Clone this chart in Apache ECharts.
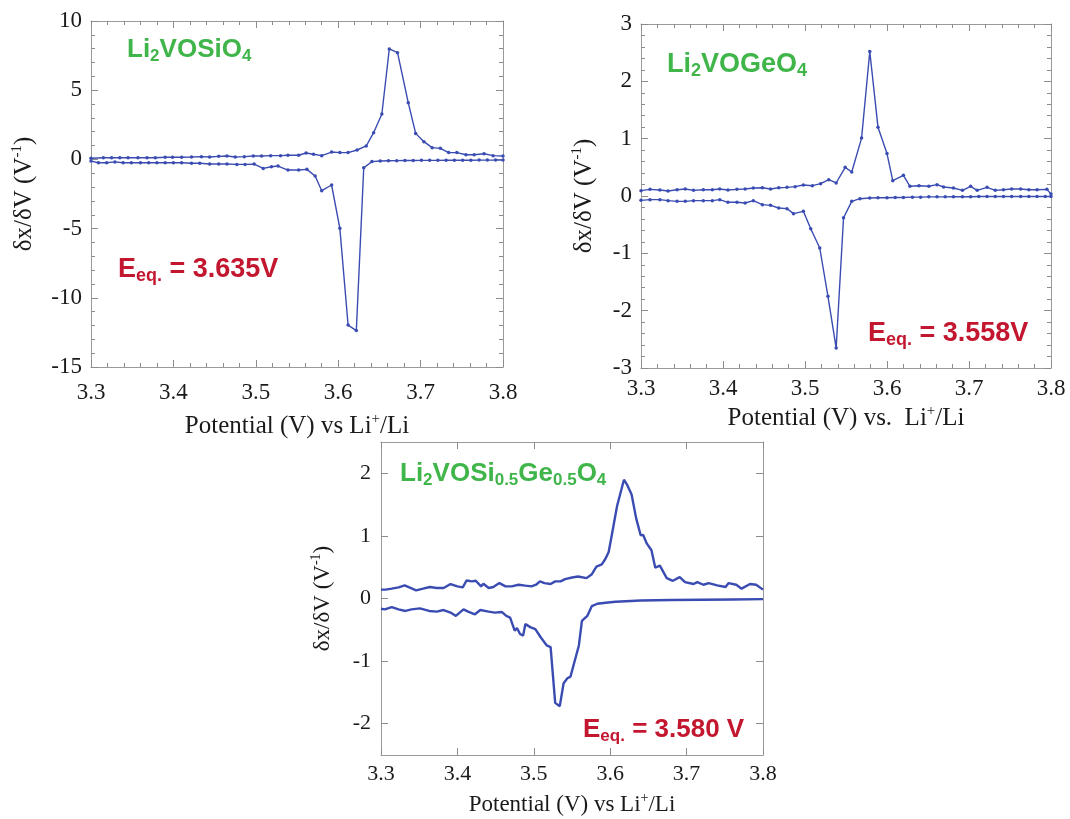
<!DOCTYPE html>
<html>
<head>
<meta charset="utf-8">
<script src="https://cdn.jsdelivr.net/npm/echarts@6/dist/echarts.min.js"></script>
<style>
  html, body { margin: 0; padding: 0; background: #fff; }
  #chart { width: 1070px; height: 819px; }
</style>
</head>
<body>
<div id="chart"></div>
<script>
// data, [potential V, dx/dV]
var siCharge = [[3.300,0.08],[3.315,0.12],[3.325,0.12],[3.335,0.12],[3.345,0.12],[3.357,0.12],[3.368,0.12],[3.378,0.12],
  [3.390,0.15],[3.399,0.15],[3.410,0.15],[3.422,0.17],[3.434,0.2],[3.444,0.17],[3.455,0.22],[3.465,0.25],[3.475,0.17],
  [3.486,0.2],[3.497,0.25],[3.507,0.25],[3.518,0.27],[3.530,0.27],[3.539,0.3],[3.552,0.3],[3.561,0.46],[3.570,0.37],
  [3.580,0.27],[3.592,0.53],[3.602,0.49],[3.612,0.49],[3.623,0.68],[3.634,0.97],[3.643,1.93],[3.653,3.28],[3.662,7.98],
  [3.672,7.71],[3.685,4.1],[3.694,1.88],[3.704,1.28],[3.714,0.85],[3.724,0.8],[3.734,0.49],[3.744,0.49],[3.755,0.34],
  [3.765,0.34],[3.777,0.41],[3.788,0.27],[3.800,0.25]];
var siDischarge = [[3.300,-0.12],[3.309,-0.24],[3.319,-0.24],[3.329,-0.18],[3.339,-0.24],[3.349,-0.24],[3.360,-0.24],
  [3.370,-0.24],[3.380,-0.24],[3.390,-0.24],[3.400,-0.24],[3.410,-0.24],[3.422,-0.28],[3.432,-0.28],[3.444,-0.33],
  [3.455,-0.33],[3.465,-0.33],[3.477,-0.36],[3.487,-0.36],[3.498,-0.34],[3.509,-0.65],[3.519,-0.53],[3.527,-0.48],
  [3.539,-0.77],[3.552,-0.77],[3.562,-0.72],[3.572,-1.2],[3.580,-2.26],[3.592,-1.85],[3.602,-4.98],[3.612,-11.97],
  [3.622,-12.37],[3.631,-0.6],[3.641,-0.16],[3.651,-0.12],[3.661,-0.1],[3.671,-0.09],[3.681,-0.08],[3.691,-0.08],
  [3.701,-0.07],[3.711,-0.07],[3.721,-0.07],[3.731,-0.06],[3.741,-0.06],[3.751,-0.06],[3.761,-0.06],[3.771,-0.05],
  [3.781,-0.05],[3.791,-0.05],[3.800,-0.05]];

var geCharge = [[3.300,0.093],[3.311,0.116],[3.323,0.105],[3.333,0.087],[3.344,0.11],[3.354,0.122],[3.364,0.099],
  [3.376,0.11],[3.387,0.11],[3.396,0.122],[3.406,0.105],[3.417,0.116],[3.427,0.122],[3.437,0.14],[3.448,0.145],
  [3.458,0.122],[3.468,0.145],[3.478,0.151],[3.488,0.163],[3.498,0.192],[3.509,0.18],[3.519,0.215],[3.529,0.285],
  [3.538,0.227],[3.549,0.5],[3.557,0.419],[3.569,1.01],[3.579,2.52],[3.589,1.2],[3.600,0.74],[3.607,0.267],[3.620,0.36],
  [3.628,0.169],[3.639,0.18],[3.651,0.169],[3.661,0.198],[3.669,0.157],[3.681,0.14],[3.692,0.099],[3.702,0.169],
  [3.710,0.099],[3.722,0.151],[3.732,0.099],[3.742,0.11],[3.752,0.122],[3.763,0.122],[3.773,0.11],[3.783,0.11],
  [3.795,0.116],[3.800,0.035]];
var geDischarge = [[3.300,-0.076],[3.311,-0.064],[3.323,-0.064],[3.333,-0.081],[3.344,-0.093],[3.354,-0.093],
  [3.364,-0.081],[3.376,-0.081],[3.387,-0.081],[3.396,-0.064],[3.406,-0.11],[3.417,-0.11],[3.427,-0.122],[3.437,-0.081],
  [3.448,-0.151],[3.458,-0.163],[3.468,-0.209],[3.478,-0.221],[3.486,-0.308],[3.498,-0.267],[3.507,-0.57],[3.518,-0.907],
  [3.528,-1.75],[3.538,-2.65],[3.547,-0.38],[3.557,-0.093],[3.567,-0.047],[3.579,-0.035],[3.589,-0.03],[3.600,-0.03],
  [3.610,-0.025],[3.620,-0.025],[3.631,-0.02],[3.641,-0.02],[3.651,-0.015],[3.661,-0.015],[3.671,-0.015],[3.681,-0.012],
  [3.692,-0.012],[3.702,-0.012],[3.712,-0.01],[3.722,-0.01],[3.732,-0.01],[3.742,-0.01],[3.752,-0.01],[3.763,-0.01],
  [3.773,-0.01],[3.783,-0.01],[3.793,-0.01],[3.800,-0.01]];

var mixCharge = [[3.300,0.142],[3.306,0.142],[3.314,0.157],[3.323,0.178],[3.331,0.21],[3.337,0.178],[3.346,0.131],
  [3.355,0.157],[3.364,0.184],[3.373,0.168],[3.382,0.168],[3.391,0.231],[3.400,0.194],[3.407,0.178],[3.412,0.288],
  [3.419,0.273],[3.424,0.283],[3.431,0.194],[3.434,0.236],[3.441,0.168],[3.447,0.184],[3.455,0.246],[3.463,0.194],
  [3.471,0.194],[3.480,0.22],[3.489,0.205],[3.497,0.194],[3.503,0.22],[3.508,0.273],[3.514,0.246],[3.522,0.231],
  [3.528,0.273],[3.535,0.273],[3.541,0.31],[3.550,0.336],[3.558,0.351],[3.569,0.325],[3.576,0.388],[3.582,0.509],
  [3.589,0.545],[3.594,0.639],[3.598,0.744],[3.602,1.006],[3.609,1.478],[3.618,1.898],[3.622,1.82],[3.628,1.662],
  [3.634,1.28],[3.640,1.007],[3.643,1.017],[3.648,0.876],[3.654,0.771],[3.659,0.493],[3.665,0.524],[3.674,0.325],
  [3.682,0.283],[3.691,0.341],[3.698,0.262],[3.709,0.231],[3.714,0.262],[3.722,0.22],[3.729,0.246],[3.740,0.21],
  [3.751,0.184],[3.755,0.246],[3.765,0.22],[3.772,0.157],[3.783,0.231],[3.791,0.22],[3.800,0.142]];
var mixDischarge = [[3.300,-0.163],[3.305,-0.173],[3.314,-0.136],[3.323,-0.173],[3.332,-0.199],[3.340,-0.173],
  [3.351,-0.157],[3.363,-0.199],[3.373,-0.21],[3.382,-0.184],[3.391,-0.225],[3.398,-0.278],[3.408,-0.173],[3.414,-0.21],
  [3.423,-0.252],[3.430,-0.184],[3.441,-0.21],[3.449,-0.225],[3.458,-0.215],[3.464,-0.278],[3.469,-0.304],[3.475,-0.514],
  [3.478,-0.472],[3.482,-0.566],[3.486,-0.593],[3.489,-0.409],[3.496,-0.461],[3.502,-0.488],[3.509,-0.619],[3.517,-0.75],
  [3.522,-0.776],[3.528,-1.667],[3.534,-1.72],[3.539,-1.353],[3.544,-1.274],[3.548,-1.248],[3.559,-0.75],[3.563,-0.357],
  [3.570,-0.278],[3.576,-0.121],[3.583,-0.084],[3.594,-0.068],[3.607,-0.052],[3.640,-0.031],[3.680,-0.025],
  [3.720,-0.02],[3.760,-0.015],[3.800,-0.01]];

var yLimits = [[-15, 10, 5], [-3, 3, 1], [-2.5, 2.5, 0.5]];
var mixYLabels = [-2, -1, 0, 1, 2];

var SERIF = '"Liberation Serif", "Times New Roman", serif';
var SANS = '"Liberation Sans", Arial, sans-serif';
var BLUE = '#3a4cb2';
var GREEN = '#3fb54a';
var RED = '#c3172f';
var FRAME = '#9a9a9a';

var chart = echarts.init(document.getElementById('chart'));

var grids = [
  {left: 91, top: 21, width: 412, height: 346},
  {left: 641, top: 24, width: 410, height: 344},
  {left: 381, top: 442, width: 382, height: 318}
];

// per panel: font size of ticks, name, gaps
var looks = [
  {tick: 23, name: 25, xMargin: 14, yMargin: 9, xGap: 45, yGap: 52, minor: true, xName: 'Potential (V) vs Li{sup|+}/Li'},
  {tick: 23, name: 25, xMargin: 9, yMargin: 9, xGap: 36, yGap: 42, minor: true, xName: 'Potential (V) vs.  Li{sup|+}/Li'},
  {tick: 22, name: 23, xMargin: 8, yMargin: 10, xGap: 36, yGap: 45, minor: false, xName: 'Potential (V) vs Li{sup|+}/Li'}
];

function nameStyle(size) {
  return {
    fontFamily: SERIF, fontSize: size, color: '#1a1a1a', lineHeight: size + 4,
    rich: {sup: {fontFamily: SERIF, fontSize: Math.round(size * 0.6), color: '#1a1a1a', verticalAlign: 'top', lineHeight: 12}}
  };
}

var xAxes = [], yAxes = [];
grids.forEach(function (g, i) {
  var lk = looks[i];
  var lim = yLimits[i];
  var tickStyle = {color: '#8c8c8c', width: 1};
  var minorTick = {show: lk.minor, splitNumber: 5, length: 4, lineStyle: tickStyle};
  var lineStyle = {show: true, onZero: false, lineStyle: {color: FRAME, width: 1}};

  xAxes.push({
    gridIndex: i, type: 'value', min: 3.3, max: 3.8, interval: 0.1,
    axisLine: lineStyle,
    axisTick: {inside: true, length: 7, lineStyle: tickStyle},
    minorTick: minorTick,
    splitLine: {show: false},
    axisLabel: {fontFamily: SERIF, fontSize: lk.tick, color: '#1a1a1a', margin: lk.xMargin,
      formatter: function (v) { return v.toFixed(1); }},
    name: lk.xName, nameLocation: 'middle', nameGap: lk.xGap,
    nameTextStyle: nameStyle(lk.name)
  });
  xAxes.push({
    gridIndex: i, type: 'value', position: 'top', min: 3.3, max: 3.8, interval: 0.1,
    axisLine: lineStyle,
    axisTick: {inside: true, length: 7, lineStyle: tickStyle},
    minorTick: minorTick,
    splitLine: {show: false},
    axisLabel: {show: false}
  });

  var yMain = {
    gridIndex: i, type: 'value', min: lim[0], max: lim[1], interval: lim[2],
    axisLine: lineStyle,
    axisTick: {show: true, inside: true, length: 7, lineStyle: tickStyle},
    minorTick: minorTick,
    splitLine: {show: false},
    axisLabel: {fontFamily: SERIF, fontSize: lk.tick, color: '#1a1a1a', margin: lk.yMargin},
    name: 'δx/δV (V{sup|-1})', nameLocation: 'middle', nameGap: lk.yGap,
    nameTextStyle: nameStyle(lk.name)
  };
  var yMirror = {
    gridIndex: i, type: 'value', position: 'right', min: lim[0], max: lim[1], interval: lim[2],
    axisLine: lineStyle,
    axisTick: {show: true, inside: true, length: 7, lineStyle: tickStyle},
    minorTick: minorTick,
    splitLine: {show: false},
    axisLabel: {show: false}
  };
  if (i === 2) {
    yMain.axisLabel.customValues = mixYLabels;
    yMain.axisTick.customValues = mixYLabels;
    yMirror.axisTick.customValues = mixYLabels;
  }
  yAxes.push(yMain, yMirror);
});

function curve(data, panel, dots) {
  return {
    type: 'line', data: data, xAxisIndex: panel * 2, yAxisIndex: panel * 2,
    symbol: 'circle', symbolSize: dots ? 3.5 : 0, showSymbol: dots,
    lineStyle: {color: BLUE, width: dots ? 1.4 : 2.4},
    itemStyle: {color: BLUE},
    animation: false, silent: true
  };
}

function label(x, y, text, color, size) {
  var sub = Math.round(size * 0.66);
  return {
    type: 'text', x: x, y: y,
    style: {
      text: text, verticalAlign: 'middle', align: 'left',
      rich: {
        m: {fontFamily: SANS, fontWeight: 'bold', fontSize: size, fill: color, lineHeight: size + 4},
        s: {fontFamily: SANS, fontWeight: 'bold', fontSize: sub, fill: color, verticalAlign: 'bottom', lineHeight: sub}
      }
    }
  };
}

chart.setOption({
  backgroundColor: '#fff',
  grid: grids,
  xAxis: xAxes,
  yAxis: yAxes,
  series: [
    curve(siCharge, 0, true), curve(siDischarge, 0, true),
    curve(geCharge, 1, true), curve(geDischarge, 1, true),
    curve(mixCharge, 2, false), curve(mixDischarge, 2, false)
  ],
  graphic: [
    label(127, 50, '{m|Li}{s|2}{m|VOSiO}{s|4}', GREEN, 26),
    label(118, 270, '{m|E}{s|eq.}{m| = 3.635V}', RED, 27),
    label(667, 65, '{m|Li}{s|2}{m|VOGeO}{s|4}', GREEN, 27),
    label(868, 334, '{m|E}{s|eq.}{m| = 3.558V}', RED, 27),
    label(400, 474, '{m|Li}{s|2}{m|VOSi}{s|0.5}{m|Ge}{s|0.5}{m|O}{s|4}', GREEN, 26),
    label(583, 730, '{m|E}{s|eq.}{m| = 3.580 V}', RED, 26)
  ]
});
</script>
</body>
</html>
